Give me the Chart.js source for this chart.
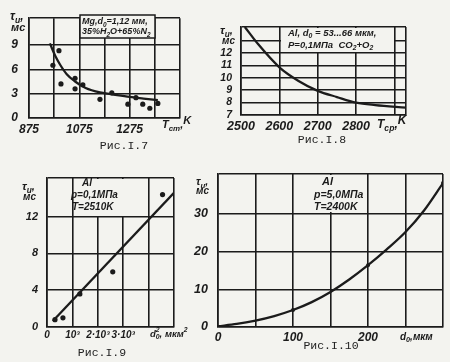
<!DOCTYPE html>
<html>
<head>
<meta charset="utf-8">
<script src="https://cdn.jsdelivr.net/npm/chart.js@4"></script>
<style>
  html, body { margin: 0; padding: 0; background: #f3f3ef; }
  #page { position: relative; width: 450px; height: 362px; overflow: hidden; }
  #page canvas { position: absolute; left: 0; top: 0; }
  .cap { position: absolute; font: 11.5px "Liberation Mono", monospace; color: #222;
         transform: translate(-50%, -50%); white-space: nowrap; }
</style>
</head>
<body>
<div id="page">
  <canvas id="c7" width="450" height="362"></canvas>
  <canvas id="c8" width="450" height="362"></canvas>
  <canvas id="c9" width="450" height="362"></canvas>
  <canvas id="c10" width="450" height="362"></canvas>
  <div class="cap" style="left:124px;top:145px">Рис.I.7</div>
  <div class="cap" style="left:322px;top:139px">Рис.I.8</div>
  <div class="cap" style="left:102px;top:352px">Рис.I.9</div>
  <div class="cap" style="left:331px;top:345px">Рис.I.10</div>
</div>
<script>
// Рис.I.7 — Mg, τи от Tст
const f7TempPts = [970, 994, 1002, 1058, 1058, 1089, 1157, 1204, 1268, 1300, 1327, 1355, 1387];
const f7TauPts = [6.5, 8.3, 4.2, 4.9, 3.6, 4.1, 2.3, 3.1, 1.7, 2.5, 1.7, 1.2, 1.8];
const f7TempFit = [958, 980, 1000, 1025, 1058, 1100, 1157, 1200, 1275, 1330, 1387];
const f7TauFit = [9.2, 7.6, 6.5, 5.4, 4.5, 3.7, 3.15, 2.95, 2.6, 2.4, 2.2];
const f7XTicks = [875, 975, 1075, 1175, 1275, 1375, 1475];
const f7XLabels = ['875', '', '1075', '', '1275', '', ''];
const f7YTicks = [0, 3, 6, 9, 12.3];
const f7YLabels = ['0', '3', '6', '9', ''];

// Рис.I.8 — Al, τи от Tср
const f8TempFit = [2510, 2545, 2600, 2650, 2700, 2750, 2800, 2850, 2930];
const f8TauFit = [14.1, 12.7, 10.85, 9.75, 8.95, 8.45, 8.0, 7.8, 7.6];
const f8XTicks = [2500, 2600, 2700, 2800, 2900, 2930];
const f8XLabels = ['2500', '2600', '2700', '2800', '', ''];
const f8YTicks = [7, 8, 9, 10, 11, 12, 13, 14.1];
const f8YLabels = ['7', '8', '9', '10', '11', '12', '', ''];

// Рис.I.9 — Al, τи от d0²
const f9D2Pts = [314, 627, 1294, 2588, 4549];
const f9TauPts = [0.8, 1.0, 3.6, 6.0, 14.4];
const f9D2Fit = [230, 5000];
const f9TauFit = [0.65, 14.6];
const f9XTicks = [0, 1000, 2000, 3000, 4000, 5000];
const f9XLabels = ['0', '10³', '2·10³', '3·10³', '', ''];
const f9YTicks = [0, 4, 8, 12, 16.2];
const f9YLabels = ['0', '4', '8', '12', ''];

// Рис.I.10 — Al, τи от d0
const f10DFit = [0, 25, 50, 75, 100, 125, 150, 175, 200, 225, 250, 275, 300];
const f10TauFit = [0.2, 0.8, 1.7, 2.9, 4.5, 6.6, 9.3, 12.6, 16.4, 20.6, 25.2, 31.0, 38.2];
const f10DPts = [100, 200, 300];
const f10TauPts = [4.5, 16.4, 38.2];
const f10XTicks = [0, 50, 100, 150, 200, 250, 300];
const f10XLabels = ['0', '', '100', '', '200', '', ''];
const f10YTicks = [0, 10, 20, 30, 40.6];
const f10YLabels = ['0', '10', '20', '30', ''];

const INK = '#1b1b1b';
const PAPER = '#f3f3ef';
const SUB = 1, SUP = 2, RAISE = 3;

// текст с индексами: [текст, режим, сдвигать ли курсор]
function drawParts(ctx, parts, x, y, size) {
  let cx = x;
  parts.forEach(p => {
    const txt = p[0], mode = p[1] || 0, adv = p[2] !== false;
    const s = (mode === SUB || mode === SUP) ? size * 0.72 : size;
    const dy = mode === SUB ? size * 0.32 : mode === SUP ? -size * 0.38 : mode === RAISE ? -size * 0.35 : 0;
    ctx.font = `italic bold ${s}px "Liberation Sans", sans-serif`;
    ctx.fillText(txt, cx, y + dy);
    if (adv) cx += ctx.measureText(txt).width;
  });
}

const notesPlugin = {
  id: 'notes',
  beforeDatasetsDraw(chart, args, opts) {
    if (!opts.box) return;
    const ctx = chart.ctx, b = opts.box;
    ctx.save();
    ctx.fillStyle = PAPER;
    ctx.fillRect(b.x0, b.y0, b.x1 - b.x0, b.y1 - b.y0);
    if (b.stroke) {
      ctx.strokeStyle = INK;
      ctx.lineWidth = 1.5;
      ctx.strokeRect(b.x0, b.y0, b.x1 - b.x0, b.y1 - b.y0);
    }
    ctx.restore();
  },
  afterDraw(chart, args, opts) {
    const ctx = chart.ctx;
    ctx.save();
    ctx.fillStyle = INK;
    ctx.textBaseline = 'middle';
    ctx.textAlign = 'left';
    (opts.texts || []).forEach(t => drawParts(ctx, t.parts, t.x, t.y, t.size));
    ctx.restore();
  }
};
Chart.register(notesPlugin);

function pts(xs, ys) { return xs.map((x, i) => ({ x: x, y: ys[i] })); }

function curve(xs, ys, smooth) {
  return {
    data: pts(xs, ys), showLine: true, pointRadius: 0, borderColor: INK,
    borderWidth: 2.3, cubicInterpolationMode: smooth ? 'monotone' : 'default', tension: 0
  };
}
function dots(xs, ys, r) {
  return {
    data: pts(xs, ys), showLine: false, pointRadius: r, pointBackgroundColor: INK,
    pointBorderWidth: 0
  };
}

function makeChart(id, frame, xT, xL, yT, yL, datasets, f, notes) {
  const tickFont = size => ({ family: 'Liberation Sans', style: 'italic', weight: 'bold', size: size });
  return new Chart(document.getElementById(id), {
    type: 'scatter',
    data: { datasets: datasets },
    options: {
      responsive: false,
      animation: false,
      events: [],
      layout: { padding: { left: 0, top: frame.top, right: 450 - frame.right, bottom: 0 } },
      plugins: { legend: { display: false }, tooltip: { enabled: false }, notes: notes },
      scales: {
        x: {
          type: 'linear', min: xT[0], max: xT[xT.length - 1],
          afterBuildTicks: s => { s.ticks = xT.map(v => ({ value: v })); },
          afterFit: s => { s.height = 362 - frame.bottom; },
          ticks: { callback: (v, i) => xL[i], autoSkip: false, maxRotation: 0,
                   padding: f.xPad, font: tickFont(f.x), color: INK },
          grid: { color: INK, lineWidth: 1.6, drawTicks: false },
          border: { color: INK, width: 1.6 }
        },
        y: {
          type: 'linear', min: yT[0], max: yT[yT.length - 1],
          afterBuildTicks: s => { s.ticks = yT.map(v => ({ value: v })); },
          afterFit: s => { s.width = frame.left; },
          ticks: { callback: (v, i) => yL[i], autoSkip: false,
                   padding: f.yPad, font: tickFont(f.y), color: INK },
          grid: { color: INK, lineWidth: 1.6, drawTicks: false },
          border: { color: INK, width: 1.6 }
        }
      }
    }
  });
}

// Рис.I.7
makeChart('c7', { left: 29, top: 15, right: 180, bottom: 118 },
  f7XTicks, f7XLabels, f7YTicks, f7YLabels,
  [curve(f7TempFit, f7TauFit, true), dots(f7TempPts, f7TauPts, 2.6)],
  { x: 12, y: 12, xPad: 4, yPad: 11 },
  {
    box: { x0: 80, y0: 15, x1: 155, y1: 38, stroke: true },
    texts: [
      { parts: [['τ'], ['и', SUB], [',']], x: 10, y: 17, size: 12 },
      { parts: [['мс']], x: 11, y: 28, size: 11 },
      { parts: [['T'], ['ст', SUB], [','], ['K', RAISE]], x: 162, y: 125, size: 11 },
      { parts: [['Mg,d'], ['0', SUB], ['=1,12 мм,']], x: 82, y: 22, size: 9 },
      { parts: [['35%H'], ['2', SUB], ['O+65%N'], ['2', SUB]], x: 82, y: 32, size: 9 }
    ]
  });

// Рис.I.8
makeChart('c8', { left: 241, top: 27, right: 406, bottom: 115 },
  f8XTicks, f8XLabels, f8YTicks, f8YLabels,
  [curve(f8TempFit, f8TauFit, true)],
  { x: 12.5, y: 10.5, xPad: 4, yPad: 9 },
  {
    box: { x0: 281, y0: 28, x1: 394, y1: 52, stroke: false },
    texts: [
      { parts: [['τ'], ['и', SUB], [',']], x: 220, y: 31, size: 11.5 },
      { parts: [['мс']], x: 222, y: 41, size: 10 },
      { parts: [['T'], ['ср', SUB], [','], ['K', RAISE]], x: 377, y: 125, size: 12 },
      { parts: [['Al, d'], ['0', SUB], [' = 53...66 мкм,']], x: 288, y: 33, size: 9.5 },
      { parts: [['P=0,1МПа  CO'], ['2', SUB], ['+O'], ['2', SUB]], x: 288, y: 45, size: 9.5 }
    ]
  });

// Рис.I.9
makeChart('c9', { left: 47, top: 178, right: 174, bottom: 327 },
  f9XTicks, f9XLabels, f9YTicks, f9YLabels,
  [curve(f9D2Fit, f9TauFit, false), dots(f9D2Pts, f9TauPts, 2.6)],
  { x: 10, y: 11, xPad: 2, yPad: 9 },
  {
    box: { x0: 74, y0: 179, x1: 124, y1: 216, stroke: false },
    texts: [
      { parts: [['τ'], ['и', SUB], [',']], x: 22, y: 187, size: 11.5 },
      { parts: [['мс']], x: 23, y: 197, size: 10 },
      { parts: [['d'], ['2', SUP, false], ['0', SUB], [', мкм'], ['2', SUP]], x: 150, y: 334, size: 9.5 },
      { parts: [['Al']], x: 82, y: 183, size: 10 },
      { parts: [['p=0,1МПа']], x: 71, y: 195, size: 10 },
      { parts: [['T=2510K']], x: 72, y: 207, size: 10 }
    ]
  });

// Рис.I.10
makeChart('c10', { left: 218, top: 174, right: 443, bottom: 327 },
  f10XTicks, f10XLabels, f10YTicks, f10YLabels,
  [curve(f10DFit, f10TauFit, true), dots(f10DPts, f10TauPts, 2)],
  { x: 12, y: 12.5, xPad: 3, yPad: 10 },
  {
    box: { x0: 312, y0: 175, x1: 367, y1: 212, stroke: false },
    texts: [
      { parts: [['τ'], ['и', SUB], [',']], x: 196, y: 182, size: 11 },
      { parts: [['мс']], x: 196, y: 191, size: 10 },
      { parts: [['d'], ['0', SUB], [',мкм']], x: 400, y: 337, size: 10 },
      { parts: [['Al']], x: 322, y: 182, size: 11 },
      { parts: [['p=5,0МПа']], x: 314, y: 195, size: 10.5 },
      { parts: [['T=2400K']], x: 314, y: 207, size: 10.5 }
    ]
  });
</script>
</body>
</html>
